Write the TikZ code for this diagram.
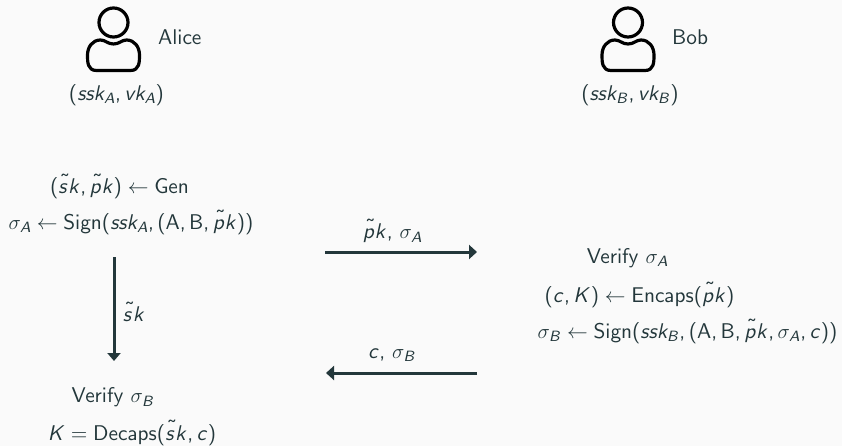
\documentclass[tikz,border=0pt]{standalone}
\usepackage{amsmath}
\usetikzlibrary{arrows.meta}
\DeclareFontFamily{OT1}{xss}{}
\DeclareFontShape{OT1}{xss}{m}{n}{<-13> cmss8 <13-> cmss10}{}
\DeclareFontShape{OT1}{xss}{m}{sl}{<-17> cmssi8 <17-> cmssi10}{}
\DeclareSymbolFont{sfn}{OT1}{xss}{m}{n}
\DeclareSymbolFont{sfi}{OT1}{xss}{m}{sl}
\DeclareMathAlphabet{\mup}{OT1}{xss}{m}{n}
\DeclareMathSymbol{s}{\mathalpha}{sfi}{`s}
\DeclareMathSymbol{k}{\mathalpha}{sfi}{`k}
\DeclareMathSymbol{v}{\mathalpha}{sfi}{`v}
\DeclareMathSymbol{p}{\mathalpha}{sfi}{`p}
\DeclareMathSymbol{c}{\mathalpha}{sfi}{`c}
\DeclareMathSymbol{A}{\mathalpha}{sfi}{`A}
\DeclareMathSymbol{B}{\mathalpha}{sfi}{`B}
\DeclareMathSymbol{K}{\mathalpha}{sfi}{`K}
\DeclareMathSymbol{(}{\mathopen}{sfn}{`(}
\DeclareMathSymbol{)}{\mathclose}{sfn}{`)}
\DeclareMathSymbol{,}{\mathpunct}{sfn}{`,}
\DeclareMathSymbol{=}{\mathrel}{sfn}{`=}
\DeclareMathAccent{\stil}{\mathord}{sfn}{"7E}
\newcommand{\tl}[1]{{\skew{3}{\stil}{\vphantom{k}#1}}}
\definecolor{fgc}{HTML}{23373B}
\definecolor{bgc}{HTML}{FAFAFA}
\tikzset{
  txt/.style={inner sep=0pt,text=fgc,font=\fontencoding{OT1}\fontfamily{xss}\fontsize{21.3}{25}\selectfont},
  flow/.style={draw=fgc,line width=3pt,-{Triangle[length=8pt,width=14pt]}},
  vflow/.style={draw=fgc,line width=3pt,-{Triangle[length=8pt,width=13pt]}},
  head/.style={draw=black,line width=3.2pt,circle,minimum size=29pt,inner sep=0pt},
  body/.style={draw=black,line width=3.2pt,line join=round},
}
\newcommand{\person}[3]{%
  \begin{scope}[shift={(#1,#2)}]
    \node[head] (#3head) at (0,22.5) {};
    \draw[body] (-13,40) .. controls (-8,40) and (-6,44) .. (0,44)
      .. controls (6,44) and (8,40) .. (13,40)
      .. controls (21,40) and (26,47) .. (26,55)
      .. controls (26,62) and (26,70.5) .. (17,70.5)
      -- (-17,70.5) .. controls (-26,70.5) and (-26,62) .. (-26,55)
      .. controls (-26,47) and (-21,40) .. (-13,40) -- cycle;
  \end{scope}}
\begin{document}
\begin{tikzpicture}[x=1pt,y=-1pt]
\useasboundingbox[fill=bgc] (0,0) rectangle (842,446);
\person{113.5}{0}{a}
\person{628}{0}{b}
\node[txt,anchor=west] (alice) at (158,37) {Alice};
\node[txt,anchor=west] (bob) at (672,37) {Bob};
\node[txt] (keysa) at (116.5,95) {$(ssk_A,vk_A)$};
\node[txt] (keysb) at (630,95) {$(ssk_B,vk_B)$};
\node[txt] (gen) at (119.5,186.5) {$(\tl{s}k,\tl{p}k)\leftarrow\mup{Gen}$};
\node[txt] (signa) at (131,222.5) {$\sigma_A\leftarrow\mup{Sign}(ssk_A,(\mup{A},\mup{B},\tl{p}k))$};
\node[txt] (skl) at (134,311.5) {$\tl{s}k$};
\node[txt] (vb) at (113,397.5) {Verify $\sigma_B$};
\node[txt] (dec) at (132,433) {$K=\mup{Decaps}(\tl{s}k,c)$};
\node[txt] (pkl) at (392.5,231) {$\tl{p}k,\,\sigma_A$};
\node[txt] (cl) at (392,355) {$c,\,\sigma_B$};
\node[txt] (va) at (627.5,258) {Verify $\sigma_A$};
\node[txt] (enc) at (639.5,295) {$(c,K)\leftarrow\mup{Encaps}(\tl{p}k)$};
\node[txt] (signb) at (687.5,331.5) {$\sigma_B\leftarrow\mup{Sign}(ssk_B,(\mup{A},\mup{B},\tl{p}k,\sigma_A,c))$};
\coordinate (r1) at (325,252); \coordinate (r2) at (477,252);
\coordinate (l1) at (477,373); \coordinate (l2) at (326,373);
\coordinate (d1) at (114,257); \coordinate (d2) at (114,361);
\draw[flow] (r1) -- (r2);
\draw[flow] (l1) -- (l2);
\draw[vflow] (d1) -- (d2);
\end{tikzpicture}
\end{document}
